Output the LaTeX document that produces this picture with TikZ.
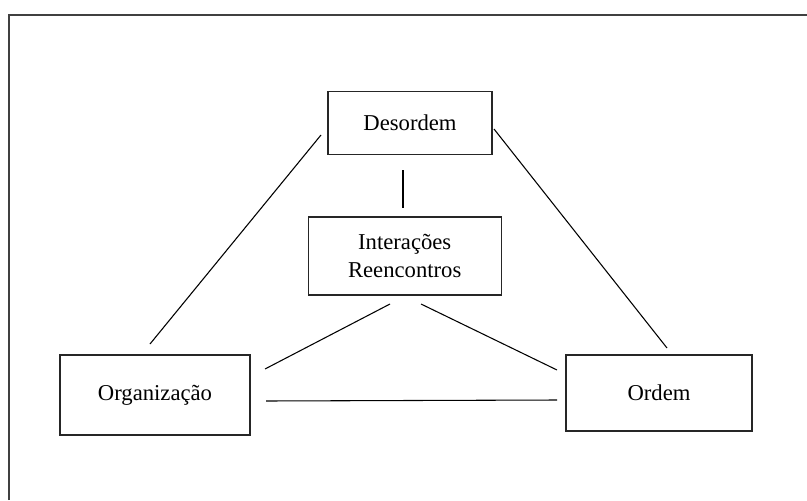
\documentclass[tikz,border=0pt]{standalone}
\usepackage{fontspec}
\setmainfont{Liberation Serif}
\begin{document}
\begin{tikzpicture}[x=0.75pt,y=-0.75pt,
  box/.style={draw=black!85, line width=0.9pt, align=center, font=\fontsize{17}{21}\selectfont, inner sep=0pt},
  link/.style={draw=black, line width=0.8pt}]
\useasboundingbox (0,0) rectangle (807,500);
% outer frame
\draw[line width=1.6pt, black!75] (9,500) |- (807,15);

% boxes
\node[box, minimum width=123pt, minimum height=47pt] (des) at (410,123) {Desordem};
\node[box, minimum width=144.75pt, minimum height=58.5pt] (int) at (404.7,256) {Interações\\Reencontros};
\node[box, minimum width=142.5pt, minimum height=60pt] (org) at (155,395) {Organização};
\node[box, minimum width=139.5pt, minimum height=57pt] (ord) at (659,393) {Ordem};

% connector ends, kept clear of the boxes
\coordinate (d1) at (321,135);  \coordinate (o1) at (150,344);
\coordinate (d2) at (494,129);  \coordinate (r1) at (667,348);
\coordinate (d3) at (403,170);  \coordinate (i1) at (403,208);
\coordinate (i2) at (390,304);  \coordinate (o2) at (265,369);
\coordinate (i3) at (421,304);  \coordinate (r2) at (557,370);
\coordinate (o3) at (266,401);  \coordinate (r3) at (557,400);

\draw[link] (d1) -- (o1);
\draw[link] (d2) -- (r1);
\draw[link] (d3) -- (i1);
\draw[link] (i2) -- (o2);
\draw[link] (i3) -- (r2);
\draw[link] (o3) -- (r3);
\end{tikzpicture}
\end{document}
